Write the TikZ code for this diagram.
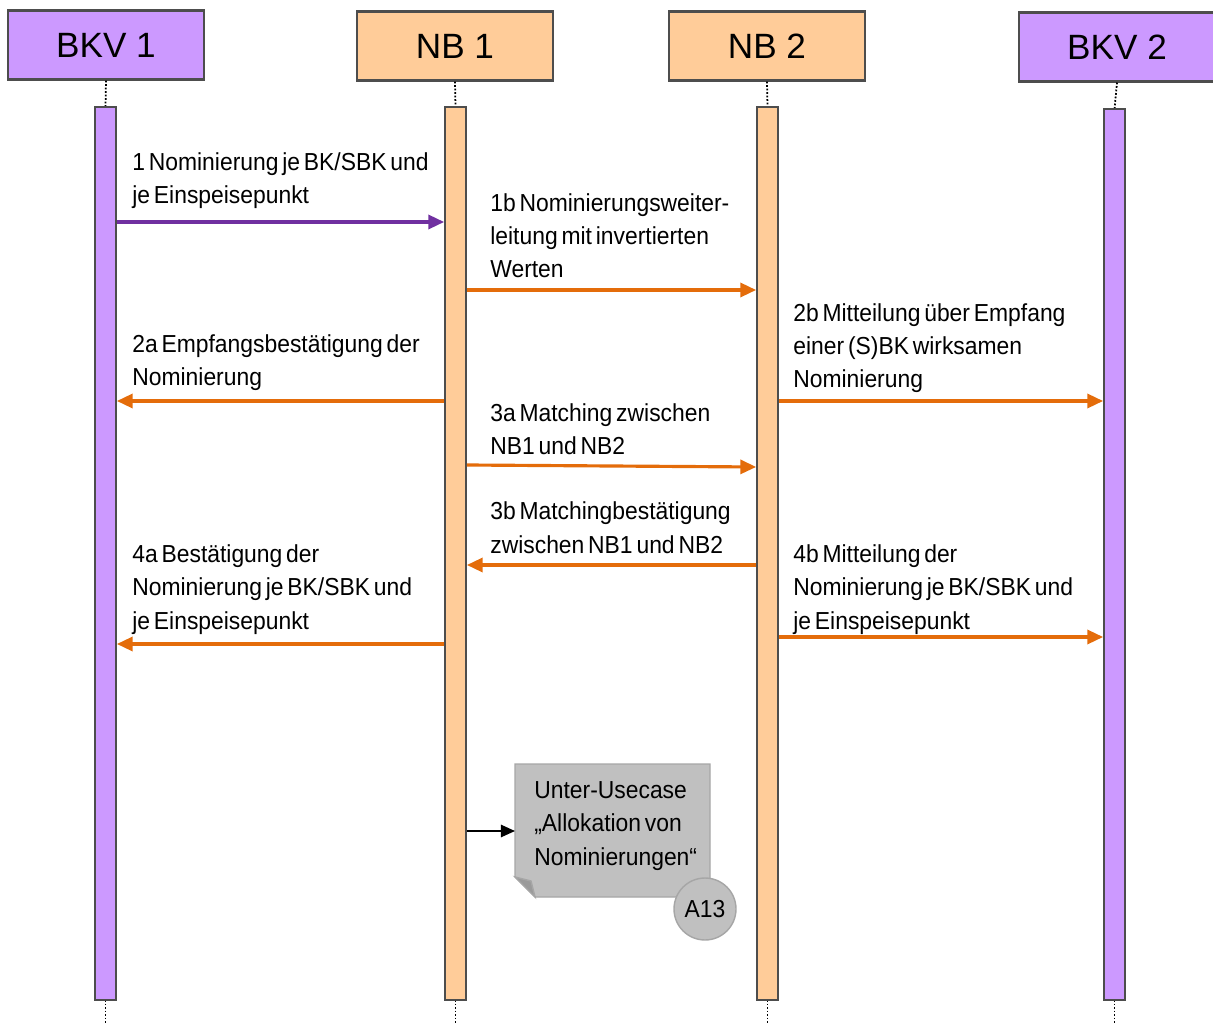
\documentclass[tikz,border=0pt]{standalone}
\usepackage{fontspec}
\setmainfont{Liberation Sans}
\newfontfamily\narrowfont[FakeStretch=0.93,WordSpace=0.6]{Liberation Sans}
\usetikzlibrary{arrows.meta}
\definecolor{vpurple}{HTML}{CC99FF}
\definecolor{vorange}{HTML}{FFCC99}
\definecolor{vborder}{HTML}{4D4D4D}
\definecolor{vmsgorange}{HTML}{E46C0A}
\definecolor{vmsgpurple}{HTML}{7030A0}
\definecolor{vnote}{HTML}{C0C0C0}
\definecolor{vnoteedge}{HTML}{A6A6A6}

\begin{document}
\begin{tikzpicture}[x=0.02cm, y=-0.02cm,
		head/.style={draw=vborder, line width=1.2pt, minimum width=3.92cm, minimum height=1.38cm, inner sep=0pt, font=\fontsize{20}{24}\selectfont},
		bar/.style={draw=vborder, line width=1pt, minimum width=0.42cm, minimum height=17.86cm, inner sep=0pt},
		life/.style={densely dotted, line width=1pt},
		msg/.style={line width=1.8pt, -{Triangle[length=9pt,width=8pt]}},
		lbl/.style={anchor=base west, align=left, inner sep=0pt, font=\narrowfont\fontsize{14}{18.8}\selectfont}]
		\useasboundingbox (0,0) rectangle (1213,1023);
		\node[head, fill=vpurple] (bkv1) at (106,45) {BKV 1};
		\node[head, fill=vorange] (nb1) at (455,46) {NB 1};
		\node[head, fill=vorange] (nb2) at (767,46) {NB 2};
		\node[head, fill=vpurple] (bkv2) at (1117,47) {BKV 2};
		\draw[life] (bkv1.south) -- (105.5,107);
		\draw[life] (nb1.south) -- (455.5,107);
		\draw[life] (nb2.south) -- (767.5,107);
		\draw[life] (bkv2.south) -- (1114.5,109);
		\draw[life] (105.5,1000) -- (105.5,1023);
		\draw[life] (455.5,1000) -- (455.5,1023);
		\draw[life] (767.5,1000) -- (767.5,1023);
		\draw[life] (1114.5,1000) -- (1114.5,1023);
		\node[bar, fill=vpurple] (bkvbar1) at (105.5,553.5) {};
		\node[bar, fill=vorange] (nbbar1) at (455.5,553.5) {};
		\node[bar, fill=vorange] (nbbar2) at (767.5,553.5) {};
		\node[bar, fill=vpurple, minimum height=17.82cm] (bkvbar2) at (1114.5,554.5) {};
		\draw[msg, color=vmsgpurple] (bkvbar1.east |- 0,222) -- (nbbar1.west |- 0,222);
		\draw[msg, color=vmsgorange] (nbbar1.east |- 0,290) -- (nbbar2.west |- 0,290);
		\draw[msg, color=vmsgorange] (nbbar1.west |- 0,401) -- (bkvbar1.east |- 0,401);
		\draw[msg, color=vmsgorange] (nbbar2.east |- 0,401) -- (bkvbar2.west |- 0,401);
		\draw[msg, color=vmsgorange] (nbbar1.east |- 0,465) -- (nbbar2.west |- 0,467);
		\draw[msg, color=vmsgorange] (nbbar2.west |- 0,565) -- (nbbar1.east |- 0,565);
		\draw[msg, color=vmsgorange] (nbbar1.west |- 0,644) -- (bkvbar1.east |- 0,644);
		\draw[msg, color=vmsgorange] (nbbar2.east |- 0,637) -- (bkvbar2.west |- 0,637);
		\node[lbl] (m1) at (132,204) {1 Nominierung je BK/SBK und\\je Einspeisepunkt};
		\node[lbl] (m1b) at (490,278) {1b Nominierungsweiter-\\leitung mit invertierten\\Werten};
		\node[lbl] (m2a) at (132,386) {2a Empfangsbestätigung der\\Nominierung};
		\node[lbl] (m2b) at (793,388) {2b Mitteilung über Empfang\\einer (S)BK wirksamen\\Nominierung};
		\node[lbl] (m3a) at (490,455) {3a Matching zwischen\\NB1 und NB2};
		\node[lbl] (m3b) at (490,553) {3b Matchingbestätigung\\zwischen NB1 und NB2};
		\node[lbl] (m4a) at (132,629) {4a Bestätigung der\\Nominierung je BK/SBK und\\je Einspeisepunkt};
		\node[lbl] (m4b) at (793,629) {4b Mitteilung der\\Nominierung je BK/SBK und\\je Einspeisepunkt};
		\draw[fill=vnote, draw=vnoteedge, line width=0.8pt] (515,764) -- (710,764) -- (710,897) -- (535,897) -- (515,877) -- cycle;
		\draw[fill=vnote!80!black, draw=vnoteedge, line width=0.8pt] (515,877) -- (531,881) -- (535,897) -- cycle;
		\coordinate (notein) at (515,831);
		\node[lbl] (note) at (534,865) {Unter-Usecase\\„Allokation von\\Nominierungen“};
		\draw[line width=1pt, -{Triangle[length=8pt,width=7pt]}] (nbbar1.east |- notein) -- (notein);
		\node[circle, fill=vnote, draw=vnoteedge, line width=0.8pt, minimum size=1.24cm, inner sep=0pt, font=\narrowfont\fontsize{14}{16}\selectfont] (a13) at (705,909) {A13};
	\end{tikzpicture}
\end{document}
